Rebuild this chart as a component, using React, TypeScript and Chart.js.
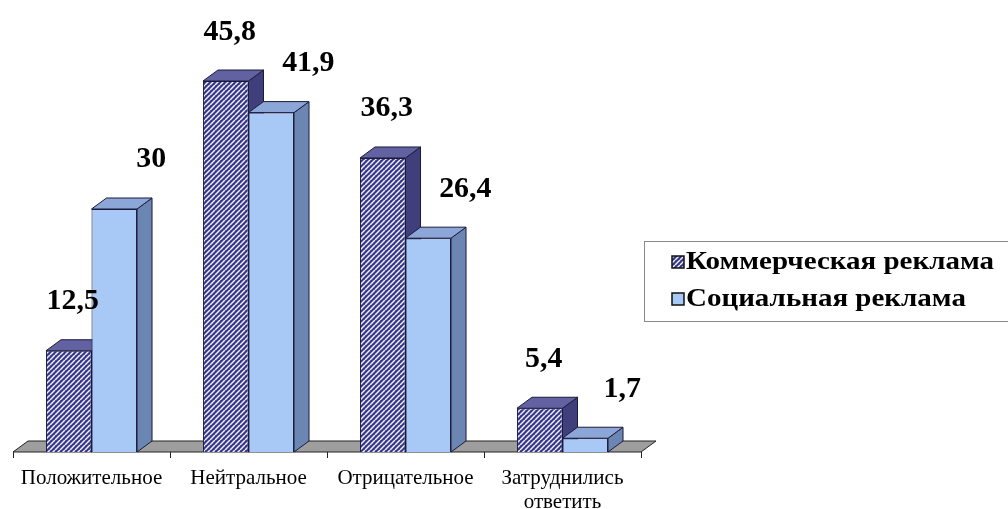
import React, { useEffect, useRef } from "react";
import { Chart, registerables } from "chart.js";

Chart.register(...registerables);

const categories: string[][] = [
  ["Положительное"],
  ["Нейтральное"],
  ["Отрицательное"],
  ["Затруднились", "ответить"],
];
const commercialValues = [12.5, 45.8, 36.3, 5.4];
const socialValues = [30, 41.9, 26.4, 1.7];
const seriesNames = ["Коммерческая реклама", "Социальная реклама"];
const valueLabels = [
  ["12,5", "45,8", "36,3", "5,4"],
  ["30", "41,9", "26,4", "1,7"],
];

const DX = 15;
const DY = -11;
const SERIF = '"Liberation Serif", "Times New Roman", serif';

function makePattern(): CanvasPattern | string {
  const c = document.createElement("canvas");
  const s = 5;
  c.width = s;
  c.height = s;
  const g = c.getContext("2d");
  if (!g) return "#6a6ab0";
  g.fillStyle = "#36368c";
  g.fillRect(0, 0, s, s);
  g.strokeStyle = "#f0f0fa";
  g.lineWidth = 1.5;
  for (const o of [-s, 0, s]) {
    g.beginPath();
    g.moveTo(o, s);
    g.lineTo(o + s, 0);
    g.stroke();
  }
  const ctx = document.createElement("canvas").getContext("2d");
  return ctx ? (ctx.createPattern(c, "repeat") as CanvasPattern) : "#6a6ab0";
}

function poly(ctx: CanvasRenderingContext2D, pts: number[][], fill: string | CanvasPattern, stroke: string) {
  ctx.beginPath();
  ctx.moveTo(pts[0][0], pts[0][1]);
  for (let i = 1; i < pts.length; i++) ctx.lineTo(pts[i][0], pts[i][1]);
  ctx.closePath();
  ctx.fillStyle = fill;
  ctx.fill();
  ctx.strokeStyle = stroke;
  ctx.lineWidth = 1;
  ctx.stroke();
}

function drawText(
  ctx: CanvasRenderingContext2D,
  text: string,
  x: number,
  y: number,
  font: string,
  align: CanvasTextAlign = "center",
  sx = 1
) {
  ctx.save();
  ctx.font = font;
  ctx.translate(x, y);
  ctx.scale(sx, 1);
  ctx.textAlign = align;
  ctx.textBaseline = "middle";
  ctx.fillStyle = "#000";
  ctx.fillText(text, 0, 0);
  ctx.restore();
}

const topColors = ["#6262a2", "#8ca6d8"];
const sideColors = ["#3f3f7c", "#6c86b4"];
const frontColors = ["", "#a8c8f6"];
const edge = "#1b1b3c";

export default function App() {
  const ref = useRef<HTMLCanvasElement>(null);

  useEffect(() => {
    document.body.style.margin = "0";
    const canvas = ref.current;
    if (!canvas) return;
    const pattern = makePattern();

    const threeD = {
      id: "threeD",
      beforeDatasetsDraw(chart: any) {
        const ctx = chart.ctx as CanvasRenderingContext2D;
        const area = chart.chartArea;
        const yBase = chart.scales.y.getPixelForValue(0);
        ctx.save();
        poly(
          ctx,
          [
            [area.left, yBase],
            [area.right, yBase],
            [area.right + DX, yBase + DY],
            [area.left + DX, yBase + DY],
          ],
          "#9e9e9e",
          "#222"
        );
        chart.data.datasets.forEach((_ds: any, di: number) => {
          const meta = chart.getDatasetMeta(di);
          meta.data.forEach((bar: any) => {
            const p = bar.getProps(["x", "y", "base", "width"], true);
            const l = p.x - p.width / 2;
            const r = p.x + p.width / 2;
            const t = p.y;
            const b = p.base;
            poly(ctx, [[r, t], [r + DX, t + DY], [r + DX, b + DY], [r, b]], sideColors[di], edge);
            poly(ctx, [[l, t], [r, t], [r + DX, t + DY], [l + DX, t + DY]], topColors[di], edge);
          });
        });
        ctx.restore();
      },
      afterDraw(chart: any) {
        const ctx = chart.ctx as CanvasRenderingContext2D;
        const xs = chart.scales.x;
        const yBase = chart.scales.y.getPixelForValue(0);
        const n = categories.length;
        const cw = (xs.right - xs.left) / n;
        ctx.save();
        ctx.strokeStyle = "#222";
        ctx.lineWidth = 1;
        for (let i = 0; i <= n; i++) {
          const x = Math.round(xs.left + i * cw) + 0.5;
          ctx.beginPath();
          ctx.moveTo(x, yBase);
          ctx.lineTo(x, yBase + 6);
          ctx.stroke();
        }
        categories.forEach((lines, i) => {
          const cx = xs.getPixelForValue(i);
          lines.forEach((ln, k) => {
            drawText(ctx, ln, cx, yBase + 26 + k * 24, `21px ${SERIF}`);
          });
        });
        const offs = [4, 37];
        chart.data.datasets.forEach((_ds: any, di: number) => {
          const meta = chart.getDatasetMeta(di);
          meta.data.forEach((bar: any, i: number) => {
            const p = bar.getProps(["x", "y"], true);
            drawText(ctx, valueLabels[di][i], p.x + offs[di], p.y - 49, `bold 29px ${SERIF}`, "center", 1.03);
          });
        });
        // legend
        ctx.strokeStyle = "#8a8a8a";
        ctx.lineWidth = 1;
        ctx.strokeRect(644.5, 241.5, 380, 80);
        const rows = [262, 299];
        const fills: (string | CanvasPattern)[] = [pattern, frontColors[1]];
        const legendFont = `bold 26px ${SERIF}`;
        ctx.font = legendFont;
        const w0 = ctx.measureText(seriesNames[0]).width;
        const lsx = 308 / w0;
        seriesNames.forEach((name, i) => {
          ctx.fillStyle = fills[i];
          ctx.fillRect(672, rows[i] - 6, 12, 12);
          ctx.strokeStyle = "#111";
          ctx.lineWidth = 1.5;
          ctx.strokeRect(672, rows[i] - 6, 12, 12);
          drawText(ctx, name, 686, rows[i], legendFont, "left", lsx);
        });
        ctx.restore();
      },
    };

    const chart = new Chart(canvas, {
      type: "bar",
      data: {
        labels: categories.map((c) => c.join(" ")),
        datasets: [
          {
            label: seriesNames[0],
            data: commercialValues,
            backgroundColor: pattern as any,
            borderColor: edge,
            borderWidth: 1,
            categoryPercentage: 0.58,
            barPercentage: 1,
          },
          {
            label: seriesNames[1],
            data: socialValues,
            backgroundColor: frontColors[1],
            borderColor: edge,
            borderWidth: 1,
            categoryPercentage: 0.58,
            barPercentage: 1,
          },
        ],
      },
      options: {
        responsive: false,
        animation: false,
        layout: { padding: { left: 13, right: 367, top: 47, bottom: 57 } },
        plugins: { legend: { display: false }, tooltip: { enabled: false } },
        scales: {
          x: { display: false, offset: true },
          y: { display: false, min: 0, max: 50 },
        },
      },
      plugins: [threeD],
    });
    return () => chart.destroy();
  }, []);

  return (
    <canvas
      ref={ref}
      width={1008}
      height={509}
      style={{ position: "absolute", left: 0, top: 0, display: "block" }}
    />
  );
}
